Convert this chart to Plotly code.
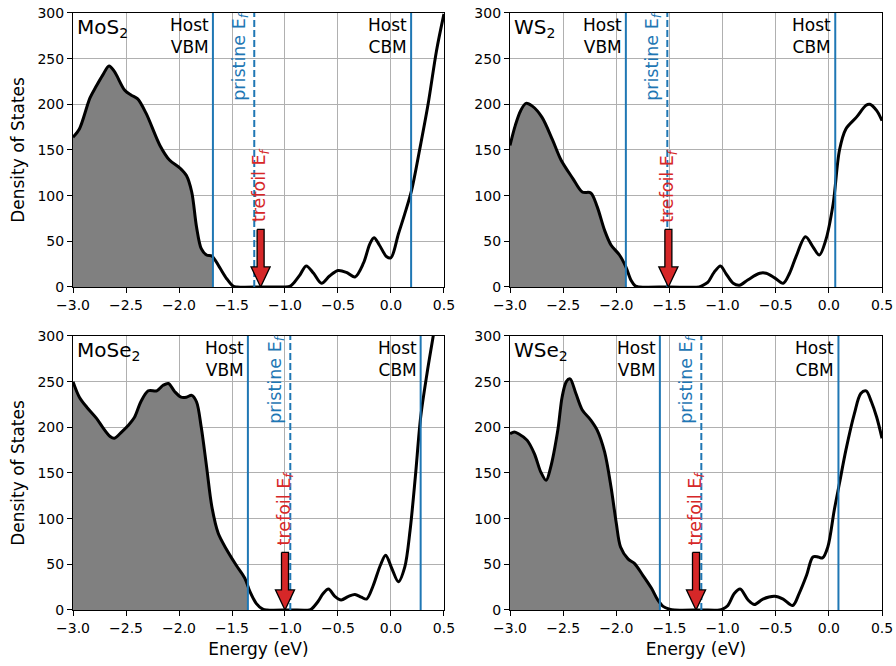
import plotly.graph_objects as go
import numpy as np

# ---- density of states, energy in eV ----
mos2_e = [-3.0, -2.94, -2.84, -2.78, -2.72, -2.66, -2.61, -2.51, -2.45, -2.39, -2.31, -2.18,
          -2.09, -1.99, -1.93, -1.88, -1.835, -1.79, -1.74, -1.69, -1.62, -1.55, -1.49, -1.45,
          -1.2, -1.0, -0.95, -0.92, -0.86, -0.80, -0.73, -0.655, -0.58, -0.5, -0.42, -0.34,
          -0.26, -0.2, -0.16, -0.11, -0.04, 0.0, 0.07, 0.13, 0.195, 0.27, 0.35, 0.43, 0.5]
mos2_dos = [164, 173, 207, 220, 232, 242, 236, 215, 210, 206, 190, 155,
            139, 130, 122, 104, 66, 42, 35, 34, 22, 9, 1, 0,
            0, 0, 1, 4, 13, 23, 15, 4, 12, 18, 16, 11,
            26, 47, 54, 46, 33, 32, 58, 80, 106, 150, 200, 259, 299]

ws2_e = [-3.0, -2.95, -2.9, -2.85, -2.79, -2.7, -2.6, -2.52, -2.41, -2.32, -2.24, -2.18,
         -2.11, -2.05, -1.97, -1.91, -1.86, -1.82, -1.78, -1.5, -1.22, -1.2, -1.14, -1.08,
         -1.02, -0.97, -0.9, -0.84, -0.76, -0.65, -0.59, -0.51, -0.43, -0.37, -0.31, -0.22,
         -0.15, -0.09, -0.03, 0.04, 0.1, 0.16, 0.26, 0.35, 0.385, 0.45, 0.5]
ws2_dos = [155, 177, 193, 201, 198, 186, 161, 139, 119, 104, 103, 88,
           62, 46, 35, 22, 7, 1, 0, 0, 0, 1, 5, 16,
           23, 15, 4, 2, 8, 15, 15, 10, 4, 15, 33, 55,
           44, 35, 51, 91, 150, 173, 186, 199, 200, 193, 182]

mose2_e = [-3.0, -2.94, -2.87, -2.78, -2.72, -2.65, -2.61, -2.54, -2.48, -2.42, -2.36, -2.29,
           -2.21, -2.15, -2.1, -2.04, -1.98, -1.93, -1.88, -1.835, -1.79, -1.74, -1.69, -1.63,
           -1.55, -1.46, -1.38, -1.33, -1.27, -1.21, -1.17, -0.95, -0.77, -0.75, -0.69, -0.64,
           -0.59, -0.53, -0.47, -0.40, -0.34, -0.28, -0.23, -0.17, -0.1, -0.05, 0.006, 0.07,
           0.13, 0.18, 0.23, 0.28, 0.34, 0.4, 0.44]
mose2_dos = [250, 233, 222, 210, 200, 190, 188, 195, 202, 211, 228, 240,
             240, 246, 248, 239, 233, 233, 235, 228, 200, 157, 113, 84,
             66, 49, 35, 20, 7, 1, 0, 0, 0, 1, 9, 18,
             23, 15, 11, 15, 17, 14, 12, 26, 49, 60, 46, 31,
             47, 87, 146, 211, 259, 301, 330]

wse2_e = [-3.0, -2.96, -2.92, -2.84, -2.77, -2.71, -2.66, -2.62, -2.55, -2.51, -2.47, -2.435,
          -2.38, -2.32, -2.24, -2.18, -2.11, -2.05, -2.0, -1.96, -1.89, -1.83, -1.75, -1.67,
          -1.61, -1.56, -1.5, -1.45, -1.2, -1.03, -1.0, -0.95, -0.89, -0.835, -0.76, -0.7,
          -0.62, -0.51, -0.43, -0.34, -0.28, -0.21, -0.15, -0.1, -0.06, -0.01, 0.05, 0.1,
          0.16, 0.24, 0.3, 0.35, 0.4, 0.45, 0.5]
wse2_dos = [193, 195, 193, 186, 171, 151, 142, 155, 197, 233, 250, 253,
            237, 219, 208, 197, 173, 135, 95, 69, 56, 51, 38, 24,
            11, 4, 1, 0, 0, 0, 1, 5, 18, 23, 11, 6,
            12, 15, 12, 5, 18, 38, 58, 58, 57, 69, 109, 139,
            175, 215, 237, 240, 228, 211, 188]

# ---- panel labels and reference energies (eV) ----
materials = ["MoS<sub>2</sub>", "WS<sub>2</sub>", "MoSe<sub>2</sub>", "WSe<sub>2</sub>"]
host_vbm = [-1.68, -1.91, -1.35, -1.59]
host_cbm = [0.19, 0.06, 0.28, 0.09]
pristine_ef = [-1.29, -1.52, -0.95, -1.20]
trefoil_ef = [-1.23, -1.51, -1.00, -1.25]

energies = [mos2_e, ws2_e, mose2_e, wse2_e]
dos = [mos2_dos, ws2_dos, mose2_dos, wse2_dos]

x_ticks = [-3.0, -2.5, -2.0, -1.5, -1.0, -0.5, 0.0, 0.5]
x_tick_text = ["\u22123.0", "\u22122.5", "\u22122.0", "\u22121.5", "\u22121.0", "\u22120.5", "0.0", "0.5"]
y_ticks = [0, 50, 100, 150, 200, 250, 300]

BLUE = "#1f77b4"
RED = "#d62728"
FONT = "DejaVu Sans"

# arrow geometry (energy half-widths, DOS heights)
ARROW_TOP = 63
ARROW_HEAD = 22
SHAFT_HALF = 0.033
HEAD_HALF = 0.09

x_domains = [[0.0815, 0.4955], [0.5692, 0.9844], [0.0815, 0.4955], [0.5692, 0.9844]]
y_domains = [[0.5691, 0.9805], [0.5691, 0.9805], [0.0841, 0.4955], [0.0841, 0.4955]]

fig = go.Figure()
annotations = []
layout_axes = {}

for i in range(4):
    n = "" if i == 0 else str(i + 1)
    xa, ya = "x" + n, "y" + n
    e = np.array(energies[i], dtype=float)
    d = np.array(dos[i], dtype=float)
    vbm = host_vbm[i]

    # occupied states shaded up to the host VBM
    mask = e <= vbm
    fe = list(e[mask]) + [vbm]
    fd = list(d[mask]) + [float(np.interp(vbm, e, d))]
    fig.add_trace(go.Scatter(x=fe, y=fd, mode="lines", fill="tozeroy",
                             fillcolor="#808080", line=dict(width=0, shape="spline", smoothing=0.9),
                             xaxis=xa, yaxis=ya, showlegend=False, hoverinfo="skip"))
    fig.add_trace(go.Scatter(x=e, y=d, mode="lines",
                             line=dict(color="black", width=3, shape="spline", smoothing=0.9),
                             xaxis=xa, yaxis=ya, showlegend=False))

    for v in (vbm, host_cbm[i]):
        fig.add_trace(go.Scatter(x=[v, v], y=[0, 300], mode="lines",
                                 line=dict(color=BLUE, width=2),
                                 xaxis=xa, yaxis=ya, showlegend=False, hoverinfo="skip"))
    fig.add_trace(go.Scatter(x=[pristine_ef[i]] * 2, y=[0, 300], mode="lines",
                             line=dict(color=BLUE, width=2, dash="7px,3px"),
                             xaxis=xa, yaxis=ya, showlegend=False, hoverinfo="skip"))

    # downward arrow marking the trefoil Fermi level
    t = trefoil_ef[i]
    hb = ARROW_HEAD
    ax_ = [t - SHAFT_HALF, t + SHAFT_HALF, t + SHAFT_HALF, t + HEAD_HALF, t,
           t - HEAD_HALF, t - SHAFT_HALF, t - SHAFT_HALF]
    ay_ = [ARROW_TOP, ARROW_TOP, hb, hb, 0, hb, hb, ARROW_TOP]
    fig.add_trace(go.Scatter(x=ax_, y=ay_, mode="lines", fill="toself", fillcolor=RED,
                             line=dict(color="black", width=1.3),
                             xaxis=xa, yaxis=ya, showlegend=False, hoverinfo="skip"))

    xkey = "xaxis" + n
    ykey = "yaxis" + n
    layout_axes[xkey] = dict(
        domain=x_domains[i], anchor=ya, range=[-3.0, 0.5], automargin=False,
        tickvals=x_ticks, ticktext=x_tick_text,
        showline=True, mirror=True, linecolor="black", linewidth=1.2,
        ticks="outside", ticklen=5, tickwidth=1.2, tickcolor="black",
        showgrid=True, gridcolor="#b0b0b0", gridwidth=1.2, zeroline=False,
        tickfont=dict(family=FONT, size=14, color="black"),
        title=dict(text="Energy (eV)" if i >= 2 else "", standoff=8,
                   font=dict(family=FONT, size=17, color="black")),
    )
    layout_axes[ykey] = dict(
        domain=y_domains[i], anchor=xa, range=[0, 300], automargin=False,
        tickvals=y_ticks,
        showline=True, mirror=True, linecolor="black", linewidth=1.2,
        ticks="outside", ticklen=5, tickwidth=1.2, tickcolor="black",
        showgrid=True, gridcolor="#b0b0b0", gridwidth=1.2, zeroline=False,
        tickfont=dict(family=FONT, size=14, color="black"),
        title=dict(text="Density of States" if i % 2 == 0 else "", standoff=8,
                   font=dict(family=FONT, size=17, color="black")),
    )

    annotations.append(dict(text=materials[i], xref=xa + " domain", yref=ya + " domain",
                            x=0, y=1, xanchor="left", yanchor="top", xshift=2, yshift=0,
                            showarrow=False, font=dict(family=FONT, size=20, color="black")))
    annotations.append(dict(text="Host<br>VBM", xref=xa, yref=ya + " domain",
                            x=vbm, y=1, xanchor="right", yanchor="top", align="right",
                            xshift=-2, showarrow=False,
                            font=dict(family=FONT, size=17, color="black")))
    annotations.append(dict(text="Host<br>CBM", xref=xa, yref=ya + " domain",
                            x=host_cbm[i], y=1, xanchor="right", yanchor="top", align="right",
                            xshift=-2, showarrow=False,
                            font=dict(family=FONT, size=17, color="black")))
    annotations.append(dict(text="pristine E<sub><i>f</i></sub>", xref=xa, yref=ya + " domain",
                            x=pristine_ef[i], y=1, xanchor="right", yanchor="top",
                            textangle=-90, yshift=2, showarrow=False,
                            font=dict(family=FONT, size=17.5, color=BLUE)))
    annotations.append(dict(text="trefoil E<sub><i>f</i></sub>", xref=xa, yref=ya,
                            x=t, y=ARROW_TOP, xanchor="center", yanchor="bottom",
                            textangle=-90, yshift=5, showarrow=False,
                            font=dict(family=FONT, size=17.5, color=RED)))

fig.update_layout(
    width=896, height=666,
    margin=dict(l=0, r=0, t=0, b=0),
    paper_bgcolor="white", plot_bgcolor="white",
    font=dict(family=FONT, color="black"),
    annotations=annotations,
    **layout_axes,
)

fig.write_html("out.html")
